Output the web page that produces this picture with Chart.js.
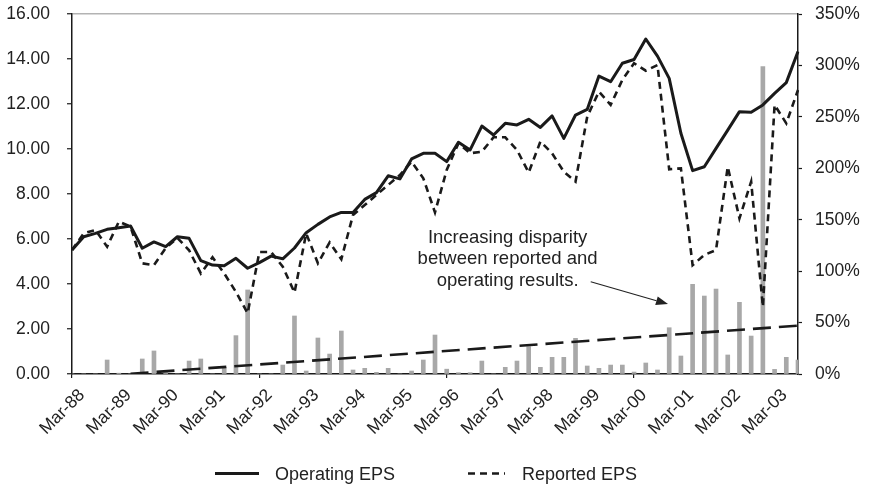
<!DOCTYPE html>
<html>
<head>
<meta charset="utf-8">
<script src="https://cdn.jsdelivr.net/npm/chart.js@4"></script>
<style>
  html, body { margin: 0; padding: 0; background: #ffffff; }
  #wrap { width: 869px; height: 487px; position: relative; }
</style>
</head>
<body>
<div id="wrap"><canvas id="c" width="869" height="487"></canvas></div>
<script>
// ---- data ----
const quarters = [
  "Mar-88","Jun-88","Sep-88","Dec-88","Mar-89","Jun-89","Sep-89","Dec-89",
  "Mar-90","Jun-90","Sep-90","Dec-90","Mar-91","Jun-91","Sep-91","Dec-91",
  "Mar-92","Jun-92","Sep-92","Dec-92","Mar-93","Jun-93","Sep-93","Dec-93",
  "Mar-94","Jun-94","Sep-94","Dec-94","Mar-95","Jun-95","Sep-95","Dec-95",
  "Mar-96","Jun-96","Sep-96","Dec-96","Mar-97","Jun-97","Sep-97","Dec-97",
  "Mar-98","Jun-98","Sep-98","Dec-98","Mar-99","Jun-99","Sep-99","Dec-99",
  "Mar-00","Jun-00","Sep-00","Dec-00","Mar-01","Jun-01","Sep-01","Dec-01",
  "Mar-02","Jun-02","Sep-02","Dec-02","Mar-03","Jun-03","Sep-03"
];
const operatingEPS = [
  5.51, 6.10, 6.25, 6.43, 6.50, 6.58, 5.59, 5.87,
  5.66, 6.10, 6.03, 5.04, 4.84, 4.81, 5.14, 4.70,
  4.95, 5.24, 5.12, 5.60, 6.28, 6.65, 6.98, 7.18,
  7.18, 7.76, 8.06, 8.81, 8.67, 9.56, 9.81, 9.81,
  9.44, 10.30, 9.96, 11.02, 10.62, 11.14, 11.07, 11.32,
  10.96, 11.47, 10.47, 11.51, 11.76, 13.24, 12.99, 13.81,
  13.98, 14.89, 14.13, 13.14, 10.70, 9.04, 9.21, 10.03,
  10.84, 11.66, 11.63, 11.96, 12.47, 12.95, 14.33
];
const reportedEPS = [
  5.51, 6.25, 6.40, 5.66, 6.77, 6.55, 4.92, 4.84,
  5.59, 6.05, 5.50, 4.47, 5.19, 4.47, 3.65, 2.70,
  5.42, 5.42, 4.77, 3.62, 6.25, 4.92, 5.85, 5.10,
  7.07, 7.51, 7.96, 8.40, 8.84, 9.44, 8.70, 7.18,
  9.07, 10.25, 9.81, 9.88, 10.52, 10.52, 9.96, 8.95,
  10.33, 9.81, 8.99, 8.55, 11.44, 12.55, 11.96, 13.07,
  13.81, 13.48, 13.73, 9.10, 9.14, 4.84, 5.29, 5.51,
  9.21, 6.92, 8.55, 2.99, 11.96, 11.14, 12.62
];
const disparityPct = [
  0, 0, 0, 13.6, 0.8, 0, 14.6, 22.4,
  1.3, 0, 12.6, 14.6, 0, 6.5, 37.3, 81.7,
  0, 0, 8.7, 56.4, 2.9, 35.0, 19.4, 41.8,
  3.9, 5.5, 1.6, 5.5, 0, 2.9, 13.6, 37.9,
  4.7, 1.3, 1.3, 12.6, 0, 6.5, 12.6, 26.6,
  6.5, 16.2, 16.2, 34.7, 7.8, 5.5, 8.7, 8.7,
  1.9, 10.7, 3.9, 45.0, 17.5, 87.2, 75.8, 82.6,
  18.5, 69.7, 36.9, 298.8, 4.5, 16.2, 13.6
];
// linear trend of the disparity: endpoints only
const trendPct = quarters.map(() => null);
trendPct[5] = 0.25;
trendPct[62] = 47.0;

const leftTicks = [0, 2, 4, 6, 8, 10, 12, 14, 16];
const rightTicks = [0, 50, 100, 150, 200, 250, 300, 350];
const annotationLines = ["Increasing disparity", "between reported and", "operating results."];
const annotationAnchor = { x: 37.2, y: [5.81, 4.87, 3.91] };
const arrowFrom = { x: 44.3, y: 4.10 };
const arrowTo = { x: 50.9, y: 3.11 };

const FONT = "'Liberation Sans', Arial, Helvetica, sans-serif";
const INK = '#1a1a1a';

const overlay = {
  id: 'overlay',
  afterDraw(chart) {
    const ctx = chart.ctx;
    const xs = chart.scales.x, ys = chart.scales.y;
    ctx.save();
    // annotation text
    ctx.fillStyle = '#222';
    ctx.font = '18.5px ' + FONT;
    ctx.textAlign = 'center';
    ctx.textBaseline = 'alphabetic';
    annotationLines.forEach((t, i) => {
      ctx.fillText(t, xs.getPixelForValue(annotationAnchor.x), ys.getPixelForValue(annotationAnchor.y[i]));
    });
    // arrow
    const x0 = xs.getPixelForValue(arrowFrom.x), y0 = ys.getPixelForValue(arrowFrom.y);
    const x1 = xs.getPixelForValue(arrowTo.x), y1 = ys.getPixelForValue(arrowTo.y);
    const ang = Math.atan2(y1 - y0, x1 - x0);
    const hl = 12, hw = 4.5;
    const bx = x1 - hl * Math.cos(ang), by = y1 - hl * Math.sin(ang);
    ctx.strokeStyle = '#222';
    ctx.lineWidth = 1.2;
    ctx.beginPath(); ctx.moveTo(x0, y0); ctx.lineTo(bx, by); ctx.stroke();
    ctx.fillStyle = '#222';
    ctx.beginPath();
    ctx.moveTo(x1, y1);
    ctx.lineTo(bx + hw * Math.sin(ang), by - hw * Math.cos(ang));
    ctx.lineTo(bx - hw * Math.sin(ang), by + hw * Math.cos(ang));
    ctx.closePath(); ctx.fill();
    // legend
    const items = [
      { ds: chart.data.datasets[0], x: 215, w: 44, tx: 275 },
      { ds: chart.data.datasets[1], x: 468, w: 37, tx: 522 }
    ];
    ctx.font = '18px ' + FONT;
    ctx.textAlign = 'left';
    items.forEach(it => {
      ctx.strokeStyle = it.ds.borderColor;
      ctx.lineWidth = it.ds.borderWidth;
      ctx.setLineDash(it.ds.borderDash || []);
      ctx.lineCap = 'butt';
      ctx.beginPath(); ctx.moveTo(it.x, 473.5); ctx.lineTo(it.x + it.w, 473.5); ctx.stroke();
      ctx.setLineDash([]);
      ctx.fillStyle = '#222';
      ctx.fillText(it.ds.label, it.tx, 480);
    });
    ctx.restore();
  }
};

const noPad = s => { s.paddingTop = 0; s.paddingBottom = 0; };

new Chart(document.getElementById('c'), {
  type: 'line',
  data: {
    labels: quarters,
    datasets: [
      { label: 'Operating EPS', data: operatingEPS, yAxisID: 'y', borderColor: INK, borderWidth: 3,
        pointRadius: 0, tension: 0, borderJoinStyle: 'round', order: 0 },
      { label: 'Reported EPS', data: reportedEPS, yAxisID: 'y', borderColor: INK, borderWidth: 2.6,
        borderDash: [7, 5], pointRadius: 0, tension: 0, order: 1 },
      { label: 'Trend', data: trendPct, yAxisID: 'y2', borderColor: INK, borderWidth: 2.6,
        borderDash: [18, 8], pointRadius: 0, tension: 0, spanGaps: true, order: 2 },
      { type: 'bar', label: 'Disparity', data: disparityPct, yAxisID: 'y2', backgroundColor: '#a8a8a8',
        barThickness: 4, order: 3 }
    ]
  },
  options: {
    responsive: false,
    animation: false,
    devicePixelRatio: 1,
    layout: { padding: { top: 14, left: 0, right: 0, bottom: 0 } },
    plugins: { legend: { display: false }, tooltip: { enabled: false } },
    scales: {
      x: {
        type: 'category',
        offset: false,
        grid: { offset: false, drawOnChartArea: false, drawTicks: true, tickLength: 4,
                tickColor: c => (c.index % 4 === 0 ? INK : 'rgba(0,0,0,0)'), lineWidth: 1.2 },
        border: { color: INK, width: 1.5 },
        ticks: {
          autoSkip: false, minRotation: 45, maxRotation: 45, padding: 7, labelOffset: 10,
          color: '#222', font: { family: FONT, size: 17.5 },
          callback: function (v, i) { return i % 4 === 0 ? quarters[i] : null; }
        },
        afterFit: s => { s.height = 113; }
      },
      y: {
        position: 'left', min: 0, max: 16,
        afterBuildTicks: s => { s.ticks = leftTicks.map(v => ({ value: v })); },
        grid: { drawOnChartArea: true, tickLength: 5, tickColor: INK, tickWidth: 1.2,
                color: c => (c.tick && c.tick.value === 16 ? '#b3b3b3' : 'rgba(0,0,0,0)'), lineWidth: 1.5 },
        border: { color: INK, width: 1.5 },
        ticks: { padding: 17, color: '#222', font: { family: FONT, size: 17.5 },
                 callback: v => Number(v).toFixed(2) },
        afterFit: s => { s.width = 72; noPad(s); }
      },
      y2: {
        position: 'right', min: 0, max: 350,
        afterBuildTicks: s => { s.ticks = rightTicks.map(v => ({ value: v })); },
        grid: { drawOnChartArea: false, tickLength: 4, tickColor: INK, tickWidth: 1.2 },
        border: { color: INK, width: 1.5 },
        ticks: { padding: 13, color: '#222', font: { family: FONT, size: 17.5 },
                 callback: v => v + '%' },
        afterFit: s => { s.width = 71; noPad(s); }
      }
    }
  },
  plugins: [overlay]
});
</script>
</body>
</html>
